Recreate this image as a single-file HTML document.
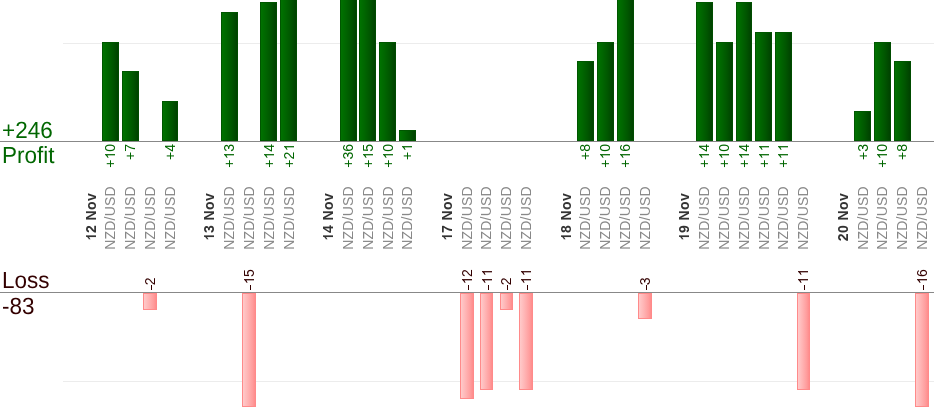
<!DOCTYPE html>
<html><head><meta charset="utf-8"><style>
html,body{margin:0;padding:0;background:#fff;}
body{width:934px;height:420px;position:relative;overflow:hidden;font-family:"Liberation Sans",sans-serif;}
.a{position:absolute;}
.hl{position:absolute;height:1px;}
.pb{position:absolute;box-sizing:border-box;border:1px solid #005600;border-right-color:#004c00;background:linear-gradient(to right,#007200 0%,#006600 30%,#005600 65%,#004200 100%);}
.lb{position:absolute;box-sizing:border-box;border:1px solid #ff8a8a;background:linear-gradient(to right,#ffcaca 0%,#ffb4b4 40%,#ff9c9c 80%,#ff8c8c 100%);}
.r{position:absolute;height:20px;line-height:20px;white-space:nowrap;transform-origin:0 0;transform:rotate(-90deg);will-change:transform;}
.one{display:inline-block;width:0.556em;height:0.716em;vertical-align:baseline;fill:currentColor;}
.pl{color:#006600;font-size:14px;}
.dt .one{margin-right:0.4px;}
.ll{color:#330000;font-size:14px;letter-spacing:0.5px;}
.ll .one{margin-right:0.5px;}
.hy{display:inline-block;width:5px;height:1.4px;background:currentColor;vertical-align:3px;margin-left:0.8px;margin-right:0;}
.dt{color:#333;font-size:14px;font-weight:bold;letter-spacing:0.4px;}
.pr{color:#888;font-size:14px;letter-spacing:0.2px;}
.big{position:absolute;font-size:22.5px;line-height:24px;white-space:nowrap;will-change:transform;transform-origin:0 19.8px;transform:scale(1,1.04);text-rendering:geometricPrecision;}
</style></head><body>

<div class="hl" style="left:63px;top:43px;width:871px;background:#ececec"></div>
<div class="hl" style="left:63px;top:381px;width:871px;background:#ececec"></div>
<div class="pb" style="left:102px;top:42px;width:17px;height:99px"></div>
<div class="pb" style="left:122px;top:71px;width:17px;height:70px"></div>
<div class="pb" style="left:162px;top:101px;width:16px;height:40px"></div>
<div class="pb" style="left:221px;top:12px;width:17px;height:129px"></div>
<div class="pb" style="left:260px;top:2px;width:17px;height:139px"></div>
<div class="pb" style="left:280px;top:-5px;width:17px;height:146px"></div>
<div class="pb" style="left:340px;top:-5px;width:17px;height:146px"></div>
<div class="pb" style="left:359px;top:-5px;width:17px;height:146px"></div>
<div class="pb" style="left:379px;top:42px;width:17px;height:99px"></div>
<div class="pb" style="left:399px;top:130px;width:17px;height:11px"></div>
<div class="pb" style="left:577px;top:61px;width:17px;height:80px"></div>
<div class="pb" style="left:597px;top:42px;width:17px;height:99px"></div>
<div class="pb" style="left:617px;top:-5px;width:17px;height:146px"></div>
<div class="pb" style="left:696px;top:2px;width:17px;height:139px"></div>
<div class="pb" style="left:716px;top:42px;width:17px;height:99px"></div>
<div class="pb" style="left:736px;top:2px;width:16px;height:139px"></div>
<div class="pb" style="left:755px;top:32px;width:17px;height:109px"></div>
<div class="pb" style="left:775px;top:32px;width:17px;height:109px"></div>
<div class="pb" style="left:854px;top:111px;width:17px;height:30px"></div>
<div class="pb" style="left:874px;top:42px;width:17px;height:99px"></div>
<div class="pb" style="left:894px;top:61px;width:17px;height:80px"></div>
<div class="lb" style="left:143px;top:293px;width:14px;height:17px"></div>
<div class="lb" style="left:242px;top:293px;width:14px;height:114px"></div>
<div class="lb" style="left:460px;top:293px;width:14px;height:106px"></div>
<div class="lb" style="left:480px;top:293px;width:13px;height:97px"></div>
<div class="lb" style="left:500px;top:293px;width:13px;height:17px"></div>
<div class="lb" style="left:519px;top:293px;width:14px;height:97px"></div>
<div class="lb" style="left:638px;top:293px;width:14px;height:26px"></div>
<div class="lb" style="left:797px;top:293px;width:13px;height:97px"></div>
<div class="lb" style="left:915px;top:293px;width:14px;height:114px"></div>
<div class="hl" style="left:0;top:141px;width:934px;background:#888"></div>
<div class="hl" style="left:0;top:292px;width:934px;background:#888"></div>
<div class="big" style="left:2px;top:118.5px;color:#006600">+246</div>
<div class="big" style="left:2px;top:144px;color:#006600">Profit</div>
<div class="big" style="left:2px;top:268.8px;color:#330000">Loss</div>
<div class="big" style="left:1.5px;top:294.5px;color:#330000">-83</div>
<div class="r pl" style="left:100.47px;top:203.90px;width:60px;text-align:right">+<svg class="one" viewBox="0 0 1139 1466"><path transform="matrix(1 0 0 -1 0 1466)" d="M863 0L683 0L683 1147Q618 1085 513 1023Q408 961 325 930L325 1104Q474 1174 586 1274Q698 1374 745 1466L863 1466Z"/></svg>0</div>
<div class="r pl" style="left:120.26px;top:203.90px;width:60px;text-align:right">+7</div>
<div class="r pl" style="left:159.84px;top:203.90px;width:60px;text-align:right">+4</div>
<div class="r pl" style="left:219.22px;top:203.90px;width:60px;text-align:right">+<svg class="one" viewBox="0 0 1139 1466"><path transform="matrix(1 0 0 -1 0 1466)" d="M863 0L683 0L683 1147Q618 1085 513 1023Q408 961 325 930L325 1104Q474 1174 586 1274Q698 1374 745 1466L863 1466Z"/></svg>3</div>
<div class="r pl" style="left:258.79px;top:203.90px;width:60px;text-align:right">+<svg class="one" viewBox="0 0 1139 1466"><path transform="matrix(1 0 0 -1 0 1466)" d="M863 0L683 0L683 1147Q618 1085 513 1023Q408 961 325 930L325 1104Q474 1174 586 1274Q698 1374 745 1466L863 1466Z"/></svg>4</div>
<div class="r pl" style="left:278.58px;top:203.90px;width:60px;text-align:right">+2<svg class="one" viewBox="0 0 1139 1466"><path transform="matrix(1 0 0 -1 0 1466)" d="M863 0L683 0L683 1147Q618 1085 513 1023Q408 961 325 930L325 1104Q474 1174 586 1274Q698 1374 745 1466L863 1466Z"/></svg></div>
<div class="r pl" style="left:337.95px;top:203.90px;width:60px;text-align:right">+36</div>
<div class="r pl" style="left:357.75px;top:203.90px;width:60px;text-align:right">+<svg class="one" viewBox="0 0 1139 1466"><path transform="matrix(1 0 0 -1 0 1466)" d="M863 0L683 0L683 1147Q618 1085 513 1023Q408 961 325 930L325 1104Q474 1174 586 1274Q698 1374 745 1466L863 1466Z"/></svg>5</div>
<div class="r pl" style="left:377.53px;top:203.90px;width:60px;text-align:right">+<svg class="one" viewBox="0 0 1139 1466"><path transform="matrix(1 0 0 -1 0 1466)" d="M863 0L683 0L683 1147Q618 1085 513 1023Q408 961 325 930L325 1104Q474 1174 586 1274Q698 1374 745 1466L863 1466Z"/></svg>0</div>
<div class="r pl" style="left:397.32px;top:203.90px;width:60px;text-align:right">+<svg class="one" viewBox="0 0 1139 1466"><path transform="matrix(1 0 0 -1 0 1466)" d="M863 0L683 0L683 1147Q618 1085 513 1023Q408 961 325 930L325 1104Q474 1174 586 1274Q698 1374 745 1466L863 1466Z"/></svg></div>
<div class="r pl" style="left:575.43px;top:203.90px;width:60px;text-align:right">+8</div>
<div class="r pl" style="left:595.23px;top:203.90px;width:60px;text-align:right">+<svg class="one" viewBox="0 0 1139 1466"><path transform="matrix(1 0 0 -1 0 1466)" d="M863 0L683 0L683 1147Q618 1085 513 1023Q408 961 325 930L325 1104Q474 1174 586 1274Q698 1374 745 1466L863 1466Z"/></svg>0</div>
<div class="r pl" style="left:615.01px;top:203.90px;width:60px;text-align:right">+<svg class="one" viewBox="0 0 1139 1466"><path transform="matrix(1 0 0 -1 0 1466)" d="M863 0L683 0L683 1147Q618 1085 513 1023Q408 961 325 930L325 1104Q474 1174 586 1274Q698 1374 745 1466L863 1466Z"/></svg>6</div>
<div class="r pl" style="left:694.17px;top:203.90px;width:60px;text-align:right">+<svg class="one" viewBox="0 0 1139 1466"><path transform="matrix(1 0 0 -1 0 1466)" d="M863 0L683 0L683 1147Q618 1085 513 1023Q408 961 325 930L325 1104Q474 1174 586 1274Q698 1374 745 1466L863 1466Z"/></svg>4</div>
<div class="r pl" style="left:713.96px;top:203.90px;width:60px;text-align:right">+<svg class="one" viewBox="0 0 1139 1466"><path transform="matrix(1 0 0 -1 0 1466)" d="M863 0L683 0L683 1147Q618 1085 513 1023Q408 961 325 930L325 1104Q474 1174 586 1274Q698 1374 745 1466L863 1466Z"/></svg>0</div>
<div class="r pl" style="left:733.75px;top:203.90px;width:60px;text-align:right">+<svg class="one" viewBox="0 0 1139 1466"><path transform="matrix(1 0 0 -1 0 1466)" d="M863 0L683 0L683 1147Q618 1085 513 1023Q408 961 325 930L325 1104Q474 1174 586 1274Q698 1374 745 1466L863 1466Z"/></svg>4</div>
<div class="r pl" style="left:753.54px;top:203.90px;width:60px;text-align:right">+<svg class="one" viewBox="0 0 1139 1466"><path transform="matrix(1 0 0 -1 0 1466)" d="M863 0L683 0L683 1147Q618 1085 513 1023Q408 961 325 930L325 1104Q474 1174 586 1274Q698 1374 745 1466L863 1466Z"/></svg><svg class="one" viewBox="0 0 1139 1466"><path transform="matrix(1 0 0 -1 0 1466)" d="M863 0L683 0L683 1147Q618 1085 513 1023Q408 961 325 930L325 1104Q474 1174 586 1274Q698 1374 745 1466L863 1466Z"/></svg></div>
<div class="r pl" style="left:773.33px;top:203.90px;width:60px;text-align:right">+<svg class="one" viewBox="0 0 1139 1466"><path transform="matrix(1 0 0 -1 0 1466)" d="M863 0L683 0L683 1147Q618 1085 513 1023Q408 961 325 930L325 1104Q474 1174 586 1274Q698 1374 745 1466L863 1466Z"/></svg><svg class="one" viewBox="0 0 1139 1466"><path transform="matrix(1 0 0 -1 0 1466)" d="M863 0L683 0L683 1147Q618 1085 513 1023Q408 961 325 930L325 1104Q474 1174 586 1274Q698 1374 745 1466L863 1466Z"/></svg></div>
<div class="r pl" style="left:852.50px;top:203.90px;width:60px;text-align:right">+3</div>
<div class="r pl" style="left:872.28px;top:203.90px;width:60px;text-align:right">+<svg class="one" viewBox="0 0 1139 1466"><path transform="matrix(1 0 0 -1 0 1466)" d="M863 0L683 0L683 1147Q618 1085 513 1023Q408 961 325 930L325 1104Q474 1174 586 1274Q698 1374 745 1466L863 1466Z"/></svg>0</div>
<div class="r pl" style="left:892.07px;top:203.90px;width:60px;text-align:right">+8</div>
<div class="r ll" style="left:140.25px;top:290.50px;width:60px;text-align:left"><span class="hy"></span>2</div>
<div class="r ll" style="left:239.20px;top:290.50px;width:60px;text-align:left"><span class="hy"></span><svg class="one" viewBox="0 0 1139 1466"><path transform="matrix(1 0 0 -1 0 1466)" d="M863 0L683 0L683 1147Q618 1085 513 1023Q408 961 325 930L325 1104Q474 1174 586 1274Q698 1374 745 1466L863 1466Z"/></svg>5</div>
<div class="r ll" style="left:456.89px;top:290.50px;width:60px;text-align:left"><span class="hy"></span><svg class="one" viewBox="0 0 1139 1466"><path transform="matrix(1 0 0 -1 0 1466)" d="M863 0L683 0L683 1147Q618 1085 513 1023Q408 961 325 930L325 1104Q474 1174 586 1274Q698 1374 745 1466L863 1466Z"/></svg>2</div>
<div class="r ll" style="left:476.68px;top:290.50px;width:60px;text-align:left"><span class="hy"></span><svg class="one" viewBox="0 0 1139 1466"><path transform="matrix(1 0 0 -1 0 1466)" d="M863 0L683 0L683 1147Q618 1085 513 1023Q408 961 325 930L325 1104Q474 1174 586 1274Q698 1374 745 1466L863 1466Z"/></svg><svg class="one" viewBox="0 0 1139 1466"><path transform="matrix(1 0 0 -1 0 1466)" d="M863 0L683 0L683 1147Q618 1085 513 1023Q408 961 325 930L325 1104Q474 1174 586 1274Q698 1374 745 1466L863 1466Z"/></svg></div>
<div class="r ll" style="left:496.47px;top:290.50px;width:60px;text-align:left"><span class="hy"></span>2</div>
<div class="r ll" style="left:516.27px;top:290.50px;width:60px;text-align:left"><span class="hy"></span><svg class="one" viewBox="0 0 1139 1466"><path transform="matrix(1 0 0 -1 0 1466)" d="M863 0L683 0L683 1147Q618 1085 513 1023Q408 961 325 930L325 1104Q474 1174 586 1274Q698 1374 745 1466L863 1466Z"/></svg><svg class="one" viewBox="0 0 1139 1466"><path transform="matrix(1 0 0 -1 0 1466)" d="M863 0L683 0L683 1147Q618 1085 513 1023Q408 961 325 930L325 1104Q474 1174 586 1274Q698 1374 745 1466L863 1466Z"/></svg></div>
<div class="r ll" style="left:635.00px;top:290.50px;width:60px;text-align:left"><span class="hy"></span>3</div>
<div class="r ll" style="left:793.33px;top:290.50px;width:60px;text-align:left"><span class="hy"></span><svg class="one" viewBox="0 0 1139 1466"><path transform="matrix(1 0 0 -1 0 1466)" d="M863 0L683 0L683 1147Q618 1085 513 1023Q408 961 325 930L325 1104Q474 1174 586 1274Q698 1374 745 1466L863 1466Z"/></svg><svg class="one" viewBox="0 0 1139 1466"><path transform="matrix(1 0 0 -1 0 1466)" d="M863 0L683 0L683 1147Q618 1085 513 1023Q408 961 325 930L325 1104Q474 1174 586 1274Q698 1374 745 1466L863 1466Z"/></svg></div>
<div class="r ll" style="left:912.07px;top:290.50px;width:60px;text-align:left"><span class="hy"></span><svg class="one" viewBox="0 0 1139 1466"><path transform="matrix(1 0 0 -1 0 1466)" d="M863 0L683 0L683 1147Q618 1085 513 1023Q408 961 325 930L325 1104Q474 1174 586 1274Q698 1374 745 1466L863 1466Z"/></svg>6</div>
<div class="r dt" style="left:80.69px;top:266.70px;width:100px;text-align:center"><svg class="one" viewBox="0 0 1139 1466"><path transform="matrix(1 0 0 -1 0 1466)" d="M827 0L575 0L575 1010Q437 881 249 819L249 1052Q348 1085 464 1175Q580 1265 623 1466L827 1466Z"/></svg>2 Nov</div>
<div class="r dt" style="left:199.42px;top:266.70px;width:100px;text-align:center"><svg class="one" viewBox="0 0 1139 1466"><path transform="matrix(1 0 0 -1 0 1466)" d="M827 0L575 0L575 1010Q437 881 249 819L249 1052Q348 1085 464 1175Q580 1265 623 1466L827 1466Z"/></svg>3 Nov</div>
<div class="r dt" style="left:318.16px;top:266.70px;width:100px;text-align:center"><svg class="one" viewBox="0 0 1139 1466"><path transform="matrix(1 0 0 -1 0 1466)" d="M827 0L575 0L575 1010Q437 881 249 819L249 1052Q348 1085 464 1175Q580 1265 623 1466L827 1466Z"/></svg>4 Nov</div>
<div class="r dt" style="left:436.90px;top:266.70px;width:100px;text-align:center"><svg class="one" viewBox="0 0 1139 1466"><path transform="matrix(1 0 0 -1 0 1466)" d="M827 0L575 0L575 1010Q437 881 249 819L249 1052Q348 1085 464 1175Q580 1265 623 1466L827 1466Z"/></svg>7 Nov</div>
<div class="r dt" style="left:555.64px;top:266.70px;width:100px;text-align:center"><svg class="one" viewBox="0 0 1139 1466"><path transform="matrix(1 0 0 -1 0 1466)" d="M827 0L575 0L575 1010Q437 881 249 819L249 1052Q348 1085 464 1175Q580 1265 623 1466L827 1466Z"/></svg>8 Nov</div>
<div class="r dt" style="left:674.38px;top:266.70px;width:100px;text-align:center"><svg class="one" viewBox="0 0 1139 1466"><path transform="matrix(1 0 0 -1 0 1466)" d="M827 0L575 0L575 1010Q437 881 249 819L249 1052Q348 1085 464 1175Q580 1265 623 1466L827 1466Z"/></svg>9 Nov</div>
<div class="r dt" style="left:832.70px;top:266.70px;width:100px;text-align:center">20 Nov</div>
<div class="r pr" style="left:100.47px;top:267.90px;width:100px;text-align:center">NZD/USD</div>
<div class="r pr" style="left:120.26px;top:267.90px;width:100px;text-align:center">NZD/USD</div>
<div class="r pr" style="left:140.06px;top:267.90px;width:100px;text-align:center">NZD/USD</div>
<div class="r pr" style="left:159.84px;top:267.90px;width:100px;text-align:center">NZD/USD</div>
<div class="r pr" style="left:219.22px;top:267.90px;width:100px;text-align:center">NZD/USD</div>
<div class="r pr" style="left:239.00px;top:267.90px;width:100px;text-align:center">NZD/USD</div>
<div class="r pr" style="left:258.79px;top:267.90px;width:100px;text-align:center">NZD/USD</div>
<div class="r pr" style="left:278.58px;top:267.90px;width:100px;text-align:center">NZD/USD</div>
<div class="r pr" style="left:337.95px;top:267.90px;width:100px;text-align:center">NZD/USD</div>
<div class="r pr" style="left:357.75px;top:267.90px;width:100px;text-align:center">NZD/USD</div>
<div class="r pr" style="left:377.53px;top:267.90px;width:100px;text-align:center">NZD/USD</div>
<div class="r pr" style="left:397.32px;top:267.90px;width:100px;text-align:center">NZD/USD</div>
<div class="r pr" style="left:456.69px;top:267.90px;width:100px;text-align:center">NZD/USD</div>
<div class="r pr" style="left:476.48px;top:267.90px;width:100px;text-align:center">NZD/USD</div>
<div class="r pr" style="left:496.27px;top:267.90px;width:100px;text-align:center">NZD/USD</div>
<div class="r pr" style="left:516.07px;top:267.90px;width:100px;text-align:center">NZD/USD</div>
<div class="r pr" style="left:575.43px;top:267.90px;width:100px;text-align:center">NZD/USD</div>
<div class="r pr" style="left:595.23px;top:267.90px;width:100px;text-align:center">NZD/USD</div>
<div class="r pr" style="left:615.01px;top:267.90px;width:100px;text-align:center">NZD/USD</div>
<div class="r pr" style="left:634.80px;top:267.90px;width:100px;text-align:center">NZD/USD</div>
<div class="r pr" style="left:694.17px;top:267.90px;width:100px;text-align:center">NZD/USD</div>
<div class="r pr" style="left:713.96px;top:267.90px;width:100px;text-align:center">NZD/USD</div>
<div class="r pr" style="left:733.75px;top:267.90px;width:100px;text-align:center">NZD/USD</div>
<div class="r pr" style="left:753.54px;top:267.90px;width:100px;text-align:center">NZD/USD</div>
<div class="r pr" style="left:773.33px;top:267.90px;width:100px;text-align:center">NZD/USD</div>
<div class="r pr" style="left:793.12px;top:267.90px;width:100px;text-align:center">NZD/USD</div>
<div class="r pr" style="left:852.50px;top:267.90px;width:100px;text-align:center">NZD/USD</div>
<div class="r pr" style="left:872.28px;top:267.90px;width:100px;text-align:center">NZD/USD</div>
<div class="r pr" style="left:892.07px;top:267.90px;width:100px;text-align:center">NZD/USD</div>
<div class="r pr" style="left:911.87px;top:267.90px;width:100px;text-align:center">NZD/USD</div>
</body></html>
